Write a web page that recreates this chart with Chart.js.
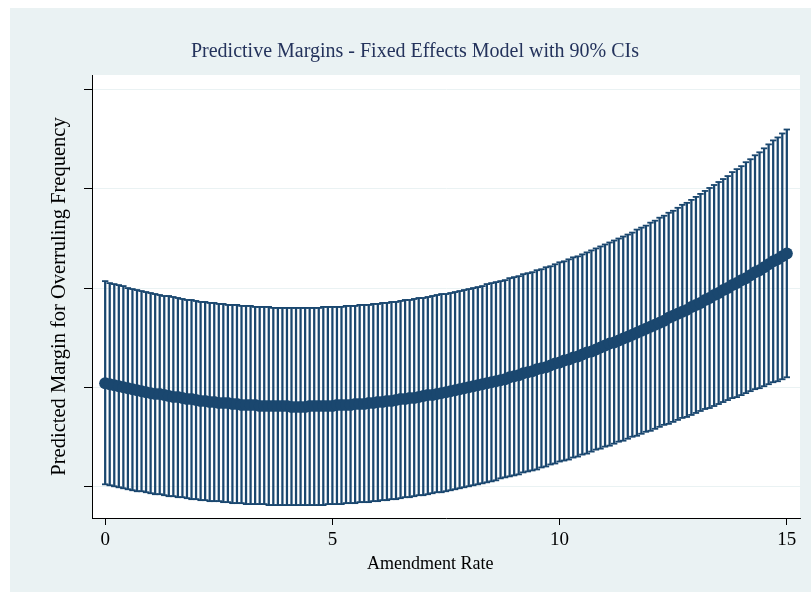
<!DOCTYPE html>
<html>
<head>
<meta charset="utf-8">
<script src="https://cdn.jsdelivr.net/npm/chart.js@4"></script>
<style>
  html, body { margin: 0; padding: 0; background: #ffffff; }
  #wrap { position: absolute; left: 10px; top: 8px; width: 801px; height: 584px; }
</style>
</head>
<body>
<div id="wrap"><canvas id="marginsChart" width="801" height="584"></canvas></div>
<script>
// amendment rate values (x), 0 to 15 by 0.1
var amendRate = [
  0,0.1,0.2,0.3,0.4,0.5,0.6,0.7,0.8,0.9,
  1,1.1,1.2,1.3,1.4,1.5,1.6,1.7,1.8,1.9,
  2,2.1,2.2,2.3,2.4,2.5,2.6,2.7,2.8,2.9,
  3,3.1,3.2,3.3,3.4,3.5,3.6,3.7,3.8,3.9,
  4,4.1,4.2,4.3,4.4,4.5,4.6,4.7,4.8,4.9,
  5,5.1,5.2,5.3,5.4,5.5,5.6,5.7,5.8,5.9,
  6,6.1,6.2,6.3,6.4,6.5,6.6,6.7,6.8,6.9,
  7,7.1,7.2,7.3,7.4,7.5,7.6,7.7,7.8,7.9,
  8,8.1,8.2,8.3,8.4,8.5,8.6,8.7,8.8,8.9,
  9,9.1,9.2,9.3,9.4,9.5,9.6,9.7,9.8,9.9,
  10,10.1,10.2,10.3,10.4,10.5,10.6,10.7,10.8,10.9,
  11,11.1,11.2,11.3,11.4,11.5,11.6,11.7,11.8,11.9,
  12,12.1,12.2,12.3,12.4,12.5,12.6,12.7,12.8,12.9,
  13,13.1,13.2,13.3,13.4,13.5,13.6,13.7,13.8,13.9,
  14,14.1,14.2,14.3,14.4,14.5,14.6,14.7,14.8,14.9,
  15
];

// predicted margin
var margin = [
  1.04,1.03,1.02,1.01,1.00,0.99,0.98,0.97,0.96,0.95,
  0.94,0.93,0.93,0.92,0.91,0.90,0.90,0.89,0.88,0.88,
  0.87,0.86,0.86,0.85,0.85,0.84,0.84,0.84,0.83,0.83,
  0.82,0.82,0.82,0.82,0.81,0.81,0.81,0.81,0.81,0.81,
  0.81,0.80,0.80,0.80,0.80,0.81,0.81,0.81,0.81,0.81,
  0.81,0.82,0.82,0.82,0.82,0.83,0.83,0.83,0.84,0.84,
  0.85,0.85,0.86,0.86,0.87,0.88,0.88,0.89,0.89,0.90,
  0.91,0.92,0.92,0.93,0.94,0.95,0.96,0.97,0.98,0.99,
  1.00,1.01,1.02,1.03,1.04,1.05,1.06,1.07,1.08,1.10,
  1.11,1.12,1.14,1.15,1.16,1.18,1.19,1.20,1.22,1.24,
  1.25,1.27,1.28,1.30,1.31,1.33,1.35,1.36,1.38,1.40,
  1.42,1.44,1.45,1.47,1.49,1.51,1.53,1.55,1.57,1.59,
  1.61,1.63,1.65,1.67,1.70,1.72,1.74,1.76,1.78,1.81,
  1.83,1.85,1.88,1.90,1.93,1.95,1.98,2.00,2.03,2.05,
  2.08,2.10,2.13,2.16,2.18,2.21,2.24,2.27,2.29,2.32,
  2.35
];

// upper 90% CI
var upperCI = [
  2.07,2.05,2.04,2.03,2.02,2.00,1.99,1.98,1.97,1.96,
  1.95,1.94,1.93,1.92,1.92,1.91,1.90,1.89,1.88,1.88,
  1.87,1.86,1.86,1.85,1.85,1.84,1.84,1.83,1.83,1.83,
  1.82,1.82,1.82,1.81,1.81,1.81,1.81,1.80,1.80,1.80,
  1.80,1.80,1.80,1.80,1.80,1.80,1.80,1.80,1.81,1.81,
  1.81,1.81,1.81,1.82,1.82,1.82,1.83,1.83,1.83,1.84,
  1.84,1.85,1.85,1.86,1.86,1.87,1.88,1.88,1.89,1.90,
  1.90,1.91,1.92,1.93,1.94,1.94,1.95,1.96,1.97,1.98,
  1.99,2.00,2.01,2.02,2.04,2.05,2.06,2.07,2.08,2.10,
  2.11,2.12,2.14,2.15,2.16,2.18,2.19,2.21,2.22,2.24,
  2.26,2.27,2.29,2.31,2.32,2.34,2.36,2.38,2.40,2.42,
  2.44,2.46,2.48,2.50,2.52,2.54,2.56,2.59,2.61,2.63,
  2.66,2.68,2.71,2.73,2.76,2.78,2.81,2.84,2.86,2.89,
  2.92,2.95,2.98,3.01,3.04,3.07,3.10,3.13,3.17,3.20,
  3.23,3.27,3.30,3.34,3.37,3.41,3.45,3.49,3.52,3.56,
  3.60
];

// lower 90% CI
var lowerCI = [
  0.02,0.01,0.00,-0.01,-0.02,-0.03,-0.04,-0.05,-0.05,-0.06,
  -0.07,-0.08,-0.08,-0.09,-0.10,-0.10,-0.11,-0.11,-0.12,-0.13,
  -0.13,-0.14,-0.14,-0.15,-0.15,-0.15,-0.16,-0.16,-0.17,-0.17,
  -0.17,-0.18,-0.18,-0.18,-0.18,-0.18,-0.19,-0.19,-0.19,-0.19,
  -0.19,-0.19,-0.19,-0.19,-0.19,-0.19,-0.19,-0.19,-0.19,-0.18,
  -0.18,-0.18,-0.18,-0.17,-0.17,-0.17,-0.16,-0.16,-0.16,-0.15,
  -0.15,-0.14,-0.14,-0.13,-0.13,-0.12,-0.11,-0.11,-0.10,-0.09,
  -0.09,-0.08,-0.07,-0.06,-0.06,-0.05,-0.04,-0.03,-0.02,-0.01,
  0.00,0.01,0.02,0.03,0.04,0.05,0.06,0.08,0.09,0.10,
  0.11,0.12,0.14,0.15,0.16,0.17,0.19,0.20,0.22,0.23,
  0.25,0.26,0.27,0.29,0.30,0.32,0.33,0.35,0.37,0.38,
  0.40,0.41,0.43,0.45,0.46,0.48,0.50,0.51,0.53,0.55,
  0.56,0.58,0.60,0.62,0.63,0.65,0.67,0.69,0.70,0.72,
  0.74,0.76,0.78,0.79,0.81,0.83,0.85,0.87,0.89,0.90,
  0.92,0.94,0.96,0.98,0.99,1.01,1.03,1.05,1.06,1.08,
  1.10
];

var xTicks = [0, 5, 10, 15];
var yTicks = [0, 1, 2, 3, 4];

var navy = '#1a476f';
var bgColor = '#eaf2f3';
var serif = "'Liberation Serif', 'Times New Roman', serif";

var stems = [], capsHi = [], capsLo = [], points = [];
for (var i = 0; i < amendRate.length; i++) {
  stems.push({x: amendRate[i], y: [lowerCI[i], upperCI[i]]});
  capsHi.push({x: amendRate[i], y: upperCI[i]});
  capsLo.push({x: amendRate[i], y: lowerCI[i]});
  points.push({x: amendRate[i], y: margin[i]});
}

const backdrop = {
  id: 'backdrop',
  beforeDraw: function(chart) {
    var ctx = chart.ctx, a = chart.chartArea;
    ctx.save();
    ctx.fillStyle = bgColor;
    ctx.fillRect(0, 0, chart.width, chart.height);
    ctx.fillStyle = '#ffffff';
    ctx.fillRect(a.left, a.top, a.right - a.left, a.bottom - a.top);
    ctx.restore();
  }
};

const data = {
  datasets: [
    {
      type: 'line',
      label: 'margin',
      data: points,
      borderColor: navy,
      backgroundColor: navy,
      borderWidth: 2,
      pointRadius: 6,
      pointBorderWidth: 0,
      order: 0
    },
    {
      type: 'scatter',
      label: 'upper',
      data: capsHi,
      pointStyle: 'line',
      pointRadius: 3.2,
      borderColor: navy,
      borderWidth: 1.8,
      order: 1
    },
    {
      type: 'scatter',
      label: 'lower',
      data: capsLo,
      pointStyle: 'line',
      pointRadius: 3.2,
      borderColor: navy,
      borderWidth: 1.8,
      order: 1
    },
    {
      type: 'bar',
      label: 'ci',
      data: stems,
      backgroundColor: navy,
      borderWidth: 0,
      barThickness: 1.6,
      order: 2
    }
  ]
};

const config = {
  data: data,
  options: {
    responsive: false,
    animation: false,
    devicePixelRatio: 1,
    layout: { padding: { left: 20, right: 11, top: 0, bottom: 0 } },
    plugins: {
      legend: { display: false },
      tooltip: { enabled: false },
      title: {
        display: true,
        text: 'Predictive Margins - Fixed Effects Model with 90% CIs',
        color: '#24335c',
        font: { family: serif, size: 20, weight: 'normal' },
        padding: { top: 32, bottom: 11 }
      }
    },
    scales: {
      x: {
        type: 'linear',
        offset: false,
        min: -0.29,
        max: 15.29,
        afterBuildTicks: function(scale) {
          scale.ticks = xTicks.map(function(v) { return {value: v}; });
        },
        afterFit: function(scale) { scale.height = 74; },
        grid: { offset: false, drawOnChartArea: false, drawTicks: true, tickLength: 7, tickColor: '#000000', tickWidth: 1 },
        border: { color: '#000000', width: 1 },
        ticks: { color: '#000000', font: { family: serif, size: 19 }, padding: 4, maxRotation: 0 },
        title: {
          display: true,
          // trailing spaces nudge the centred title left, like Stata places it
          text: 'Amendment Rate       ',
          color: '#000000',
          font: { family: serif, size: 18 },
          padding: { top: 0, bottom: 17 }
        }
      },
      y: {
        type: 'linear',
        min: -0.32,
        max: 4.15,
        afterBuildTicks: function(scale) {
          scale.ticks = yTicks.map(function(v) { return {value: v}; });
        },
        afterFit: function(scale) { scale.width = 62; },
        grid: { color: bgColor, lineWidth: 1, drawTicks: true, tickLength: 8, tickColor: '#000000', tickWidth: 1 },
        border: { color: '#000000', width: 1 },
        ticks: { callback: function() { return ''; } },
        title: {
          display: true,
          text: 'Predicted Margin for Overruling Frequency',
          color: '#000000',
          font: { family: serif, size: 20.5 },
          padding: { top: 17.7, bottom: 0 }
        }
      }
    }
  },
  plugins: [backdrop]
};

var myChart = new Chart(document.getElementById('marginsChart'), config);
</script>
</body>
</html>
